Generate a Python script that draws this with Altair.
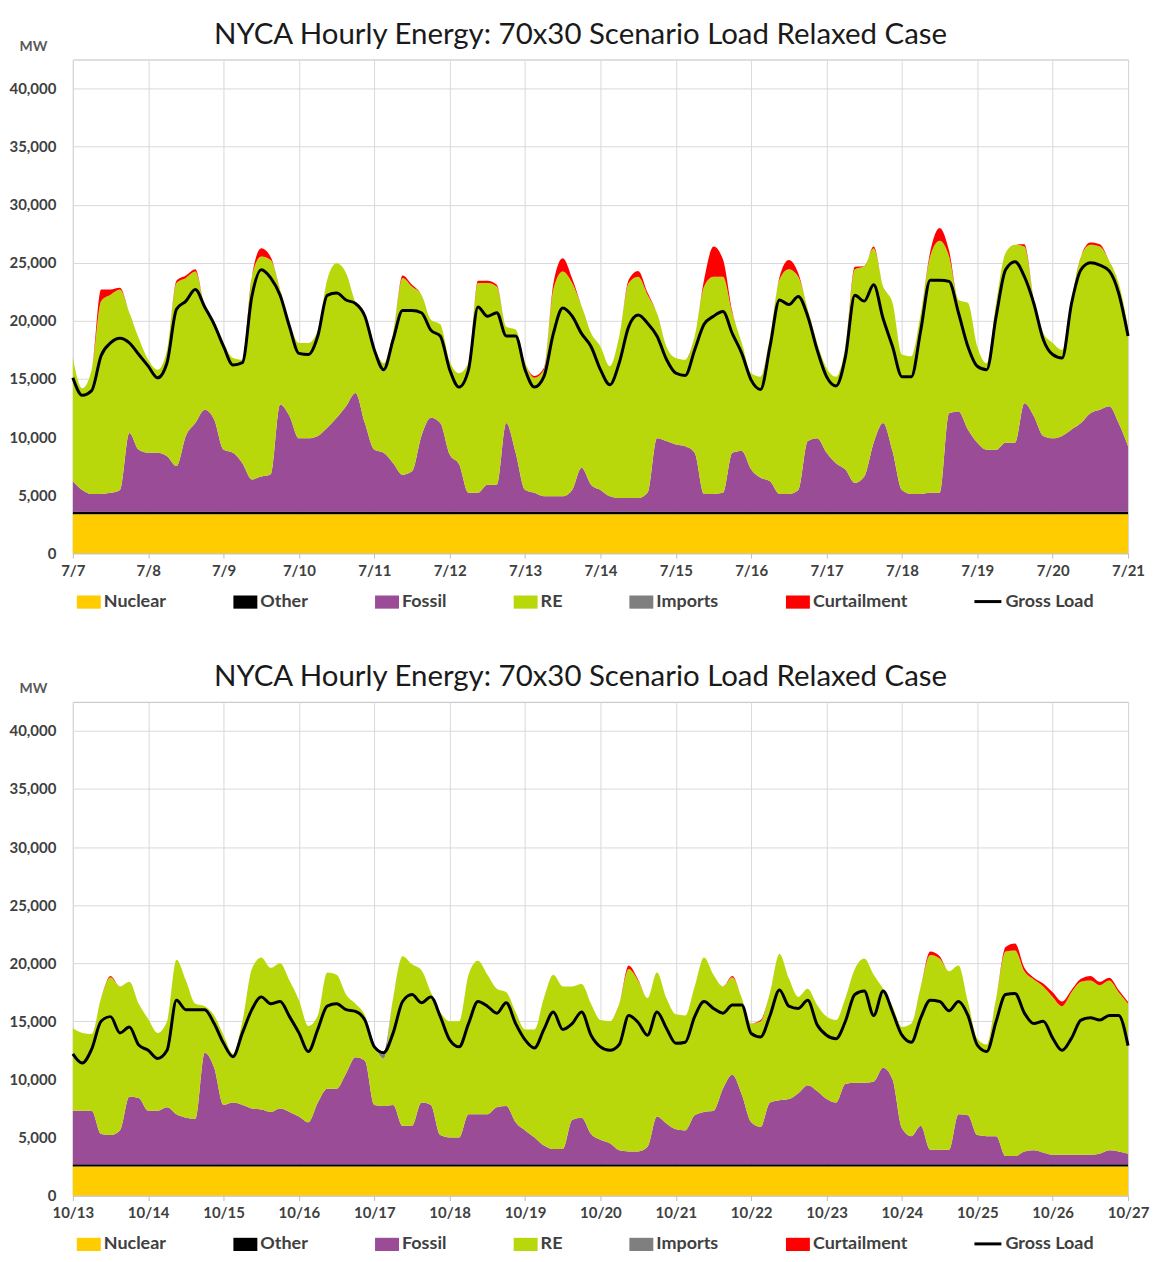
import json
import altair as alt
import pandas as pd

TITLE = "NYCA Hourly Energy: 70x30 Scenario Load Relaxed Case"
SERIES = ["Nuclear", "Other", "Fossil", "RE", "Imports", "Curtailment"]
SERIES_COLORS = ["#FFCC00", "#000000", "#9B4C97", "#B9D80C", "#7F7F7F", "#FF0000"]
LOAD_NAME = "Gross Load"
STEP_HOURS = 3  # values read every 3 hours (0h, 3h, ... 21h) plus the final midnight

# ---------------- July panel (7/7 - 7/21) ----------------
JUL_DAYS = ["7/7", "7/8", "7/9", "7/10", "7/11", "7/12", "7/13", "7/14",
            "7/15", "7/16", "7/17", "7/18", "7/19", "7/20", "7/21"]
JUL_NUCLEAR = 3350
JUL_OTHER = 250
JUL_FOSSIL_TOP = [
    6200, 5450, 5100, 5100, 5200, 5450, 10350, 8900,
    8650, 8650, 8350, 7500, 10100, 11200, 12350, 11500,
    8900, 8650, 7750, 6350, 6600, 6800, 12800, 11800,
    9900, 9900, 10100, 10800, 11650, 12650, 13800, 11200,
    8900, 8650, 7750, 6750, 7050, 10100, 11650, 11200,
    8500, 7650, 5200, 5200, 5900, 5900, 11200, 8650,
    5450, 5200, 4900, 4900, 4900, 5450, 7350, 5900,
    5450, 4900, 4750, 4750, 4750, 5200, 9900, 9650,
    9350, 9200, 8650, 5100, 5100, 5200, 8650, 8800,
    7200, 6500, 6200, 5100, 5100, 5450, 9650, 9900,
    8650, 7750, 7200, 6050, 6600, 9500, 11200, 8800,
    5450, 5100, 5100, 5200, 5200, 12050, 12200, 10650,
    9500, 8900, 8900, 9500, 9500, 12900, 11800, 10100,
    9900, 10100, 10650, 11200, 12050, 12350, 12650, 11200,
    9200,
]
JUL_RE_TOP = [
    16800, 14200, 15800, 21700, 22250, 22700, 20700, 18500,
    16650, 15800, 17500, 23250, 23700, 24250, 21250, 20000,
    18100, 16800, 16650, 23800, 25550, 25250, 22700, 19800,
    18100, 18100, 19200, 23550, 24950, 24100, 21550, 20300,
    17700, 16350, 19000, 23700, 22950, 22250, 20100, 19700,
    16500, 15500, 16400, 23250, 23250, 22950, 19500, 19250,
    16400, 15100, 15800, 22700, 24250, 23250, 21250, 18950,
    17800, 16100, 18650, 23250, 23800, 22250, 20650, 17800,
    16800, 16650, 18650, 22950, 23800, 23800, 20650, 18100,
    15500, 15200, 18650, 23550, 24450, 23800, 21000, 18100,
    15950, 15200, 17800, 24450, 24700, 26250, 22950, 21550,
    17100, 16950, 20650, 25550, 26900, 25550, 21800, 21550,
    17800, 16350, 21550, 25850, 26550, 26400, 21800, 18950,
    18100, 17500, 21800, 25550, 26550, 26400, 25150, 23250,
    19500,
]
JUL_IMPORTS = [
    0, 0, 0, 0, 0, 0, 0, 0,
    0, 0, 0, 0, 0, 0, 0, 0,
    0, 0, 0, 0, 0, 0, 0, 0,
    0, 0, 0, 0, 0, 0, 0, 300,
    0, 0, 0, 0, 0, 0, 0, 0,
    0, 0, 0, 0, 0, 0, 0, 0,
    0, 0, 0, 0, 0, 0, 0, 0,
    0, 0, 0, 0, 0, 0, 0, 0,
    0, 0, 0, 0, 0, 0, 0, 0,
    0, 0, 0, 0, 0, 0, 0, 0,
    0, 0, 0, 0, 0, 0, 0, 0,
    0, 0, 0, 0, 0, 0, 0, 0,
    0, 0, 0, 0, 0, 0, 0, 0,
    0, 0, 0, 0, 0, 0, 0, 0,
    0,
]
JUL_CURTAIL = [
    0, 0, 0, 1000, 450, 150, 0, 0,
    0, 0, 0, 200, 200, 200, 0, 0,
    0, 0, 0, 0, 700, 250, 0, 0,
    0, 0, 0, 0, 0, 0, 0, 0,
    0, 0, 0, 200, 150, 0, 0, 0,
    0, 0, 0, 200, 200, 150, 0, 0,
    0, 150, 150, 500, 1150, 400, 0, 0,
    0, 0, 0, 300, 500, 200, 0, 0,
    0, 0, 0, 600, 2600, 1500, 150, 0,
    0, 0, 0, 200, 800, 300, 0, 0,
    0, 0, 0, 200, 0, 150, 0, 0,
    0, 0, 0, 400, 1100, 500, 0, 0,
    0, 0, 0, 0, 0, 200, 0, 0,
    0, 0, 0, 0, 200, 200, 0, 0,
    0,
]
JUL_LOAD = [
    15100, 13600, 14000, 17000, 18100, 18500, 18100, 17100,
    16100, 15100, 16400, 21000, 21700, 22700, 21200, 19700,
    17800, 16200, 16400, 22100, 24400, 23700, 22200, 19500,
    17200, 17100, 18700, 22200, 22400, 21800, 21500, 20400,
    17500, 15800, 18400, 20900, 20900, 20700, 19200, 18700,
    15800, 14300, 15800, 21200, 20400, 20700, 18700, 18700,
    15800, 14300, 15200, 18900, 21100, 20400, 18900, 17800,
    15800, 14500, 16400, 19500, 20500, 19800, 18700, 16700,
    15500, 15300, 17500, 19700, 20400, 20800, 18900, 17200,
    14900, 14100, 17800, 21800, 21400, 22100, 20400, 17500,
    15200, 14400, 16900, 22200, 21700, 23100, 20200, 17800,
    15200, 15200, 19200, 23500, 23500, 23400, 20700, 17800,
    16100, 15800, 20400, 24400, 25100, 23800, 21500, 18400,
    17100, 16800, 21500, 24400, 25000, 24800, 24300, 22400,
    18700,
]

# ---------------- October panel (10/13 - 10/27) ----------------
OCT_DAYS = ["10/13", "10/14", "10/15", "10/16", "10/17", "10/18", "10/19", "10/20",
            "10/21", "10/22", "10/23", "10/24", "10/25", "10/26", "10/27"]
OCT_NUCLEAR = 2500
OCT_OTHER = 200
OCT_FOSSIL_TOP = [
    7300, 7300, 7300, 5300, 5200, 5600, 8500, 8400,
    7300, 7300, 7600, 7000, 6700, 6600, 12300, 11000,
    7800, 8000, 7800, 7500, 7400, 7200, 7500, 7200,
    6800, 6300, 8000, 9200, 9200, 10500, 11900, 11600,
    7800, 7700, 7800, 6000, 6000, 8000, 7800, 5200,
    5000, 5000, 7000, 7000, 7000, 7600, 7700, 6300,
    5600, 5000, 4300, 4000, 4000, 6500, 6700, 5300,
    4800, 4500, 3900, 3800, 3800, 4200, 6800, 6200,
    5700, 5600, 6900, 7200, 7300, 9200, 10400, 8700,
    6300, 5900, 8000, 8200, 8300, 8800, 9500, 9000,
    8300, 8000, 9600, 9700, 9700, 9800, 11000, 10000,
    5800, 5100, 6000, 3950, 3950, 3950, 7000, 6900,
    5200, 5100, 5100, 3400, 3400, 3800, 3900, 3700,
    3500, 3500, 3500, 3500, 3500, 3600, 3900, 3800,
    3600,
]
OCT_RE_TOP = [
    14400, 14000, 13900, 17000, 18800, 18000, 18400, 16500,
    15200, 14000, 15000, 20300, 18500, 16500, 16300, 15500,
    13800, 12200, 15000, 19500, 20500, 19600, 20000, 18500,
    16800, 14600, 15500, 19200, 19000, 17300, 16500, 15500,
    13000, 11800, 17000, 20600, 19900, 19400, 17500, 15800,
    15000, 15000, 19000, 20200, 19000, 17800, 17500, 15800,
    14300, 14300, 17000, 19000, 18000, 18000, 18200, 16500,
    15100, 15000, 16500, 19500, 18500, 17000, 19200, 17000,
    15600, 15500, 18000, 20500, 19000, 18000, 18800, 17000,
    14800, 15000, 17500, 20800, 18700, 17100, 17800, 16400,
    15400, 15100, 17000, 19500, 20400, 19000, 17800, 16300,
    14500, 14800, 18000, 20700, 20400, 19300, 19800, 16700,
    13500, 13000, 17000, 21000, 21100, 19300, 18600, 18000,
    17100, 16300, 17500, 18400, 18500, 18100, 18500, 17500,
    16500,
]
OCT_IMPORTS = [
    0, 0, 0, 0, 0, 0, 0, 0,
    0, 0, 0, 0, 0, 0, 0, 0,
    0, 0, 0, 0, 0, 0, 0, 0,
    0, 0, 0, 0, 0, 0, 0, 0,
    0, 600, 0, 0, 0, 0, 0, 0,
    0, 0, 0, 0, 0, 0, 0, 0,
    0, 0, 0, 0, 0, 0, 0, 0,
    0, 0, 0, 0, 0, 0, 0, 0,
    0, 0, 0, 0, 0, 0, 0, 0,
    0, 0, 0, 0, 0, 0, 0, 0,
    0, 0, 0, 0, 0, 0, 0, 0,
    0, 0, 0, 0, 0, 0, 0, 0,
    0, 0, 0, 0, 0, 0, 0, 0,
    0, 0, 0, 0, 0, 0, 0, 0,
    0,
]
OCT_CURTAIL = [
    0, 0, 0, 0, 100, 0, 0, 0,
    0, 0, 0, 0, 0, 0, 0, 0,
    0, 0, 0, 0, 0, 0, 0, 0,
    0, 0, 0, 0, 0, 0, 0, 0,
    0, 0, 0, 0, 0, 0, 0, 0,
    0, 0, 0, 0, 0, 0, 0, 0,
    0, 0, 0, 0, 0, 0, 0, 0,
    0, 0, 0, 300, 100, 0, 0, 0,
    0, 0, 0, 0, 0, 0, 100, 0,
    0, 100, 0, 0, 0, 0, 0, 0,
    0, 0, 0, 0, 0, 0, 0, 0,
    0, 0, 0, 300, 200, 0, 0, 0,
    0, 0, 0, 400, 600, 300, 150, 250,
    400, 400, 200, 250, 400, 300, 250, 200,
    150,
]
OCT_LOAD = [
    12200, 11400, 12600, 15000, 15400, 14000, 14500, 12950,
    12500, 11800, 12500, 16800, 16000, 16000, 16000, 14800,
    13100, 11950, 14000, 16000, 17100, 16500, 16700, 15400,
    14000, 12400, 14300, 16300, 16500, 16000, 15850, 15100,
    12800, 12300, 14000, 16700, 17300, 16600, 17100, 15400,
    13400, 12800, 14800, 16700, 16300, 15700, 16600, 14800,
    13400, 12700, 14300, 15800, 14300, 14800, 15800, 13800,
    12800, 12500, 13000, 15500, 14900, 13800, 15800, 14400,
    13100, 13200, 15400, 16700, 16100, 15700, 16400, 16400,
    13950, 13650, 15500, 17700, 16300, 16100, 16800, 14700,
    13800, 13500, 15000, 17300, 17600, 15500, 17600, 15800,
    13800, 13200, 15300, 16800, 16700, 15900, 16700, 15500,
    12950, 12400, 15000, 17300, 17400, 15700, 14800, 15000,
    13550, 12500, 13550, 15100, 15300, 15100, 15500, 15500,
    12900,
]

FONT = "Lato"
TEXT_COLOR = "#404040"
GRID_COLOR = "#d9d9d9"
CURVE = "monotone"
PLOT_W = 1058
PLOT_H = 495


def build_bands(nuclear, other, fossil_top, re_top, imports, curtail):
    rows = []
    for i in range(len(fossil_top)):
        t = i * STEP_HOURS / 24.0
        n_top = nuclear
        o_top = nuclear + other
        f_top = fossil_top[i]
        r_top = re_top[i]
        i_top = r_top + imports[i]
        c_top = i_top + curtail[i]
        los = [0, n_top, o_top, f_top, r_top, i_top]
        his = [n_top, o_top, f_top, r_top, i_top, c_top]
        for s, lo, hi in zip(SERIES, los, his):
            rows.append({"t": t, "series": s, "lo": lo, "hi": hi})
    return pd.DataFrame(rows)


def build_load(load):
    return pd.DataFrame({
        "t": [i * STEP_HOURS / 24.0 for i in range(len(load))],
        "load": load,
        "name": [LOAD_NAME] * len(load),
    })


def panel(day_labels, bands, load_df):
    label_expr = json.dumps(day_labels) + "[datum.value]"
    x_scale = alt.Scale(domain=[0, len(day_labels) - 1], nice=False, zero=False)
    x_axis = alt.Axis(
        values=list(range(len(day_labels))), labelExpr=label_expr, title=None,
        grid=True, gridColor=GRID_COLOR, domainColor="#bfbfbf", tickColor="#bfbfbf",
        tickSize=5, labelFont=FONT, labelFontSize=15, labelFontWeight="bold",
        labelColor=TEXT_COLOR, labelPadding=5, labelFlush=False,
    )
    y_scale = alt.Scale(domain=[0, 42500], nice=False, zero=True)
    y_axis = alt.Axis(
        values=list(range(0, 40001, 5000)), labelExpr="format(datum.value, ',')",
        title="MW", titleAngle=0,
        titleX=-40, titleY=-13, titleAlign="center", titleBaseline="middle",
        titleFont=FONT, titleFontSize=14, titleFontWeight="bold", titleColor="#595959",
        grid=True, gridColor=GRID_COLOR, domain=False, ticks=False,
        labelFont=FONT, labelFontSize=15, labelFontWeight="bold",
        labelColor=TEXT_COLOR, labelPadding=17,
    )
    areas = alt.Chart(bands).mark_area(interpolate=CURVE, opacity=1).encode(
        x=alt.X("t:Q", scale=x_scale, axis=x_axis),
        y=alt.Y("hi:Q", stack=None, scale=y_scale, axis=y_axis),
        y2="lo:Q",
        color=alt.Color(
            "series:N",
            scale=alt.Scale(domain=SERIES, range=SERIES_COLORS),
            legend=alt.Legend(
                title=None, orient="none", legendX=4, legendY=532,
                direction="horizontal", symbolType="M-1,-0.55H1V0.55H-1Z",
                symbolSize=576, symbolStrokeWidth=0, symbolOpacity=1,
                labelFont=FONT, labelFontSize=18, labelFontWeight="bold",
                labelColor=TEXT_COLOR, labelOffset=3, columnPadding=67, padding=0,
            ),
        ),
    )
    line = alt.Chart(load_df).mark_line(strokeWidth=3, interpolate=CURVE).encode(
        x=alt.X("t:Q", scale=x_scale, axis=x_axis),
        y=alt.Y("load:Q", scale=y_scale, axis=y_axis),
        stroke=alt.Stroke(
            "name:N",
            scale=alt.Scale(domain=[LOAD_NAME], range=["#000000"]),
            legend=alt.Legend(
                title=None, orient="none", legendX=902, legendY=528,
                symbolType="stroke", symbolStrokeWidth=3, symbolSize=730,
                labelFont=FONT, labelFontSize=18, labelFontWeight="bold",
                labelColor=TEXT_COLOR, labelOffset=2, padding=0,
            ),
        ),
    )
    return alt.layer(areas, line).properties(
        width=PLOT_W, height=PLOT_H,
        title=alt.TitleParams(
            TITLE, font=FONT, fontSize=29.5, fontWeight="normal", color="#1a1a1a",
            anchor="middle", offset=-11, dx=-20,
        ),
    )


top = panel(JUL_DAYS,
            build_bands(JUL_NUCLEAR, JUL_OTHER, JUL_FOSSIL_TOP, JUL_RE_TOP, JUL_IMPORTS, JUL_CURTAIL),
            build_load(JUL_LOAD))
bottom = panel(OCT_DAYS,
               build_bands(OCT_NUCLEAR, OCT_OTHER, OCT_FOSSIL_TOP, OCT_RE_TOP, OCT_IMPORTS, OCT_CURTAIL),
               build_load(OCT_LOAD))

chart = alt.vconcat(top, bottom, spacing=50).resolve_scale(
    color="independent", stroke="independent", x="independent", y="independent"
).configure(
    padding={"left": 0, "top": 10, "right": 0, "bottom": 0},
    background="white",
).configure_view(stroke="#bfbfbf", strokeWidth=1)

chart.save("out.html", embed_options={"renderer": "svg", "actions": False})
